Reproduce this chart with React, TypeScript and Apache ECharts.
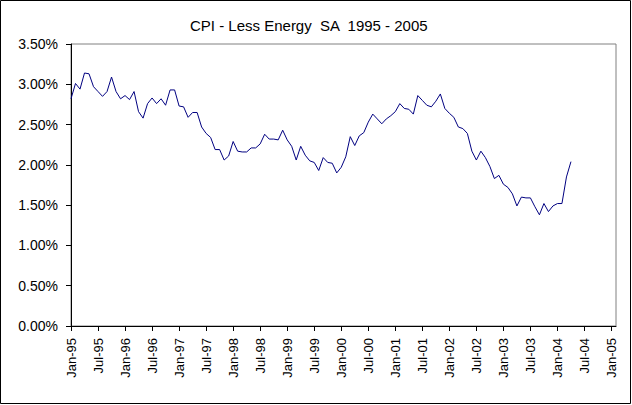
import React, { useEffect, useRef } from "react";
import * as echarts from "echarts";

const chartTitle = "CPI - Less Energy  SA  1995 - 2005";

// Monthly values (%), Jan-95 .. Apr-04
const cpiLessEnergy = [
  2.82, 3.01, 2.94, 3.14, 3.13, 2.97, 2.91, 2.85, 2.91, 3.09, 2.91, 2.82,
  2.86, 2.81, 2.91, 2.66, 2.58, 2.76, 2.83, 2.76, 2.82, 2.74, 2.93, 2.93,
  2.73, 2.72, 2.59, 2.65, 2.65, 2.47, 2.39, 2.34, 2.19, 2.19, 2.06, 2.11,
  2.29, 2.17, 2.16, 2.16, 2.21, 2.21, 2.26, 2.38, 2.32, 2.32, 2.31, 2.43,
  2.31, 2.23, 2.06, 2.23, 2.12, 2.05, 2.03, 1.93, 2.09, 2.03, 2.02, 1.9,
  1.97, 2.1, 2.35, 2.24, 2.36, 2.4, 2.53, 2.63, 2.57, 2.51, 2.57, 2.61,
  2.66, 2.76, 2.7, 2.69, 2.63, 2.86, 2.8, 2.74, 2.72, 2.79, 2.88, 2.7,
  2.64, 2.59, 2.47, 2.45, 2.39, 2.17, 2.06, 2.17, 2.09, 1.98, 1.83, 1.87,
  1.76, 1.72, 1.64, 1.49, 1.6, 1.59, 1.59, 1.48, 1.38, 1.52, 1.42, 1.49,
  1.52, 1.52, 1.85, 2.04,
];

const xTickLabels = [
  "Jan-95", "Jul-95", "Jan-96", "Jul-96", "Jan-97", "Jul-97", "Jan-98",
  "Jul-98", "Jan-99", "Jul-99", "Jan-00", "Jul-00", "Jan-01", "Jul-01",
  "Jan-02", "Jul-02", "Jan-03", "Jul-03", "Jan-04", "Jul-04", "Jan-05",
];

const monthsPerTick = 6;
const axisMaxMonth = 121;

const FONT = "'Liberation Sans', Arial, sans-serif";

export default function App() {
  const ref = useRef<HTMLDivElement>(null);

  useEffect(() => {
    if (!ref.current) return;
    const chart = echarts.init(ref.current, undefined, { renderer: "svg" });
    const tickValues = xTickLabels.map((_, i) => i * monthsPerTick);
    chart.setOption({
      animation: false,
      backgroundColor: "#ffffff",
      title: {
        text: chartTitle,
        left: 190,
        top: 18,
        padding: 0,
        textStyle: {
          fontFamily: FONT,
          fontSize: 15,
          fontWeight: "normal",
          color: "#000000",
        },
      },
      graphic: [
        {
          type: "rect",
          shape: { x: 0.5, y: 0.5, width: 630, height: 403 },
          style: { fill: "none", stroke: "#000000", lineWidth: 1 },
          silent: true,
        },
      ],
      grid: {
        left: 71,
        right: 16,
        top: 44,
        bottom: 79,
        show: true,
        borderColor: "#808080",
        borderWidth: 1,
        backgroundColor: "transparent",
      },
      xAxis: {
        type: "value",
        min: 0,
        max: axisMaxMonth,
        interval: monthsPerTick,
        splitLine: { show: false },
        axisLine: { show: true, lineStyle: { color: "#000000", width: 1 } },
        axisTick: {
          show: true,
          length: 5,
          inside: false,
          customValues: tickValues,
          lineStyle: { color: "#000000" },
        },
        axisLabel: {
          rotate: 90,
          margin: 12,
          customValues: tickValues,
          color: "#000000",
          fontFamily: FONT,
          fontSize: 13,
          formatter: (v: number) => {
            const idx = Math.round(v / monthsPerTick);
            return v % monthsPerTick === 0 && xTickLabels[idx] ? xTickLabels[idx] : "";
          },
        },
      },
      yAxis: {
        type: "value",
        min: 0,
        max: 3.5,
        interval: 0.5,
        splitLine: { show: false },
        axisLine: { show: true, lineStyle: { color: "#000000", width: 1 } },
        axisTick: { show: true, length: 5, inside: false, lineStyle: { color: "#000000" } },
        axisLabel: {
          margin: 13,
          color: "#000000",
          fontFamily: FONT,
          fontSize: 14,
          formatter: (v: number) => v.toFixed(2) + "%",
        },
      },
      series: [
        {
          name: "CPI - Less Energy SA",
          type: "line",
          data: cpiLessEnergy.map((v, i) => [i, v]),
          showSymbol: false,
          symbol: "none",
          lineStyle: { color: "#000080", width: 1 },
        },
      ],
    });
    return () => chart.dispose();
  }, []);

  return (
    <div
      ref={ref}
      style={{ position: "fixed", left: 0, top: 0, width: 632, height: 405 }}
    />
  );
}
